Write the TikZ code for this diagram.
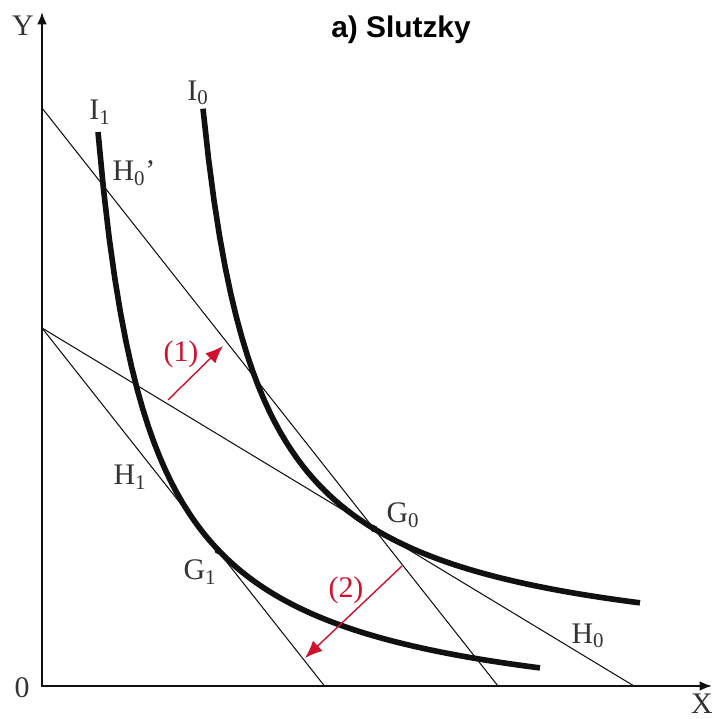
\documentclass[tikz,border=0pt]{standalone}
\usepackage{fontspec}
\usepackage{xcolor}
\usepackage{tikz}
\usetikzlibrary{arrows.meta}
\setmainfont{Liberation Serif}
\newfontfamily\titlefont{Liberation Sans}
\definecolor{fg}{HTML}{111111}
\definecolor{labelgray}{HTML}{333333}
\definecolor{accent}{HTML}{D0102C}
\newcommand{\sublbl}[2]{#1\textsubscript{#2}}

\begin{document}
\begin{tikzpicture}[x=1cm,y=1cm,
  axis/.style={fg,line width=1.1pt,{Latex[length=7pt,width=5.5pt]}-{Latex[length=7pt,width=5.5pt]}},
  budget/.style={fg,line width=0.6pt},
  indiff/.style={fg,line width=3.2pt},
  shiftarrow/.style={accent,line width=0.8pt,-{Latex[length=10pt,width=8pt]}},
  lab/.style={text=labelgray,font=\fontsize{17}{19}\selectfont,inner sep=0pt},
  redlab/.style={lab,text=accent}]
  \useasboundingbox (-0.84,-0.66) rectangle (13.44,13.72);

  % axes
  \coordinate (o) at (0,0);
  \coordinate (ytop) at (0,13.48);
  \coordinate (xend) at (13.4,0);
  \draw[axis] (ytop) -- (o) -- (xend);
  \node[lab] (ylab) at (-0.38,13.2) {Y};
  \node[lab] (xlab) at (13.2,-0.36) {X};
  \node[lab] (olab) at (-0.4,-0.04) {0};
  \node[font=\titlefont\fontsize{17}{19}\selectfont\bfseries,inner sep=0pt] (title) at (7.18,13.12) {a) Slutzky};

  % budget lines
  \coordinate (h0y) at (0,7.16);
  \coordinate (h0x) at (11.84,0);
  \coordinate (h0py) at (0,11.56);
  \coordinate (h0px) at (9.12,0);
  \coordinate (h1x) at (5.65,0);
  \draw[budget] (h0y) -- (h0x);
  \draw[budget] (h0py) -- (h0px);
  \draw[budget] (h0y) -- (h1x);

  % indifference curves
  \draw[indiff] plot[domain=3.22:11.96,samples=80] (\x,{0.4+12.45/(\x-2.103)});
  \draw[indiff] plot[domain=1.12:9.96,samples=80] (\x,{-0.9+12.47/(\x-0.079)});
  \coordinate (g0) at (6.64,3.145);
  \coordinate (g1) at (3.52,2.71);
  \fill[fg] (g0) circle (0.07);
  \fill[fg] (g1) circle (0.07);

  % labels
  \node[lab] (i1lab) at (1.16,11.48) {\sublbl{I}{1}};
  \node[lab] (i0lab) at (3.12,11.86) {\sublbl{I}{0}};
  \node[lab] (h0plab) at (1.84,10.26) {\sublbl{H}{0}'};
  \node[lab] (h1lab) at (1.76,4.18) {\sublbl{H}{1}};
  \node[lab] (g1lab) at (3.16,2.28) {\sublbl{G}{1}};
  \node[lab] (g0lab) at (7.22,3.42) {\sublbl{G}{0}};
  \node[lab] (h0lab) at (10.92,1.0) {\sublbl{H}{0}};

  % shifts
  \coordinate (s1a) at (2.52,5.72);
  \coordinate (s1b) at (3.62,6.80);
  \coordinate (s2a) at (7.2,2.40);
  \coordinate (s2b) at (5.26,0.56);
  \draw[shiftarrow] (s1a) -- (s1b);
  \draw[shiftarrow] (s2a) -- (s2b);
  \node[redlab] (one) at (2.78,6.64) {(1)};
  \node[redlab] (two) at (6.08,1.92) {(2)};
\end{tikzpicture}
\end{document}
